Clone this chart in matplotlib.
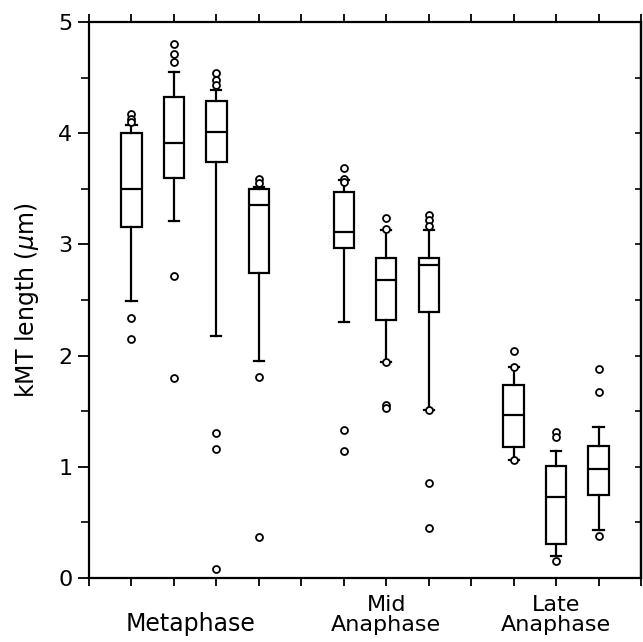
import matplotlib.pyplot as plt
import numpy as np

# box positions on the x axis (0..13)
positions = [1, 2, 3, 4, 6, 7, 8, 10, 11, 12]

# box statistics (kMT length, um)
whislo = [2.49, 3.21, 2.18, 1.95, 2.30, 1.945, 1.51, 1.06, 0.20, 0.43]
q1 = [3.16, 3.60, 3.74, 2.745, 2.97, 2.32, 2.39, 1.18, 0.31, 0.75]
med = [3.50, 3.915, 4.01, 3.35, 3.11, 2.68, 2.815, 1.47, 0.73, 0.98]
q3 = [4.005, 4.33, 4.29, 3.495, 3.47, 2.88, 2.88, 1.735, 1.007, 1.19]
whishi = [4.07, 4.55, 4.39, 3.52, 3.58, 3.13, 3.13, 1.90, 1.14, 1.36]

fliers = [
    [4.17, 4.13, 4.10, 2.34, 2.15],
    [4.80, 4.71, 4.64, 2.72, 1.80],
    [4.54, 4.48, 4.43, 1.30, 1.16, 0.08],
    [3.59, 3.555, 1.805, 0.37],
    [3.69, 3.59, 3.565, 1.33, 1.145],
    [3.235, 3.135, 1.945, 1.555, 1.525],
    [3.265, 3.22, 3.17, 1.51, 0.85, 0.45],
    [2.04, 1.90, 1.06],
    [1.315, 1.27, 0.15],
    [1.88, 1.675, 0.38],
]

group_labels = ["Metaphase", "Mid\nAnaphase", "Late\nAnaphase"]
group_x = [2.4, 7, 11]

stats = []
for i in range(len(positions)):
    stats.append(dict(whislo=whislo[i], q1=q1[i], med=med[i], q3=q3[i],
                      whishi=whishi[i], fliers=fliers[i]))

fig = plt.figure(figsize=(6.43, 6.42), dpi=100)
ax = fig.add_axes([0.1384, 0.0997, 0.8585, 0.866])

ax.bxp(stats, positions=positions, widths=0.48, showfliers=True,
       patch_artist=True,
       boxprops=dict(facecolor='white', edgecolor='black', linewidth=1.6),
       medianprops=dict(color='black', linewidth=1.6),
       whiskerprops=dict(color='black', linewidth=1.6),
       capprops=dict(color='black', linewidth=1.6),
       flierprops=dict(marker='o', markerfacecolor='white',
                       markeredgecolor='black', markersize=5,
                       markeredgewidth=1.3))

ax.set_xlim(0, 13)
ax.set_ylim(0, 5)

ax.set_xticks(np.arange(0, 14))
ax.set_xticklabels([])
ax.set_yticks(np.arange(0, 6))
ax.set_yticks(np.arange(0.5, 5, 1), minor=True)
ax.tick_params(axis='x', which='major', direction='out', length=6,
               width=1.3, top=True)
ax.tick_params(axis='y', which='major', direction='out', length=8,
               width=1.3, labelsize=16, pad=4)
ax.tick_params(axis='y', which='minor', direction='out', length=6, width=1.2)
for s in ax.spines.values():
    s.set_linewidth(1.6)

# small inward ticks on the right side
sec = ax.secondary_yaxis('right')
sec.set_yticks(np.arange(0, 5.01, 0.5))
sec.tick_params(direction='in', length=4, width=1.2, labelright=False)
sec.spines['right'].set_linewidth(1.6)

ax.set_ylabel(r"kMT length ($\mu$m)", fontsize=17, labelpad=12)

trans = ax.get_xaxis_transform()
ax.text(group_x[0], -0.062, group_labels[0], transform=trans,
        ha='center', va='top', fontsize=17)
for gx, lab in zip(group_x[1:], group_labels[1:]):
    ax.text(gx, -0.030, lab, transform=trans, ha='center', va='top',
            fontsize=16, linespacing=1.0)

fig.savefig("out.png", dpi=100)
